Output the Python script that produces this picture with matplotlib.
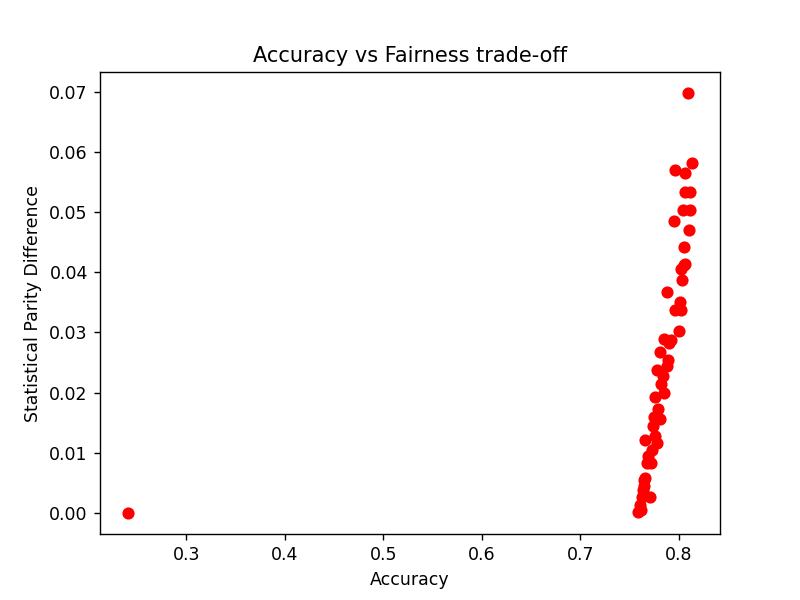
import numpy as np
import matplotlib
matplotlib.use("Agg")
import matplotlib.pyplot as plt

## Data
accuracy = [0.241, 0.809, 0.813, 0.796, 0.806, 0.806, 0.811, 0.804, 0.811, 0.795,
            0.810, 0.805, 0.805, 0.802, 0.806, 0.803, 0.788, 0.801, 0.796, 0.802,
            0.800, 0.785, 0.792, 0.790, 0.7807, 0.7888, 0.7878, 0.7777, 0.7838, 0.7817,
            0.7848, 0.7757, 0.7787, 0.7746, 0.7807, 0.7736, 0.7757, 0.7655, 0.7777, 0.7726,
            0.7686, 0.7676, 0.7716, 0.7655, 0.7645, 0.7645, 0.7635, 0.7706, 0.7625, 0.7604,
            0.7584, 0.7614]
parity = [0.0, 0.0698, 0.0582, 0.0570, 0.0565, 0.0533, 0.0533, 0.0503, 0.0503, 0.0485,
          0.0470, 0.0442, 0.0412, 0.0405, 0.0413, 0.0387, 0.0368, 0.0350, 0.0337, 0.0337,
          0.0303, 0.0290, 0.0287, 0.0282, 0.0267, 0.0255, 0.0245, 0.0237, 0.0227, 0.0215,
          0.0200, 0.0193, 0.0173, 0.0160, 0.0157, 0.0145, 0.0128, 0.0122, 0.0117, 0.0105,
          0.0095, 0.0083, 0.0083, 0.0058, 0.0055, 0.0045, 0.0038, 0.0027, 0.0027, 0.0013,
          0.0002, 0.0005]

# default 6.4x4.8 figure saved at 125 dpi -> 800x600
plt.figure(figsize=(6.4, 4.8), dpi=125)
plt.scatter(accuracy, parity, c='red')
plt.title('Accuracy vs Fairness trade-off')
plt.xlabel('Accuracy')
plt.ylabel('Statistical Parity Difference')
plt.savefig('out.png', dpi=125)
